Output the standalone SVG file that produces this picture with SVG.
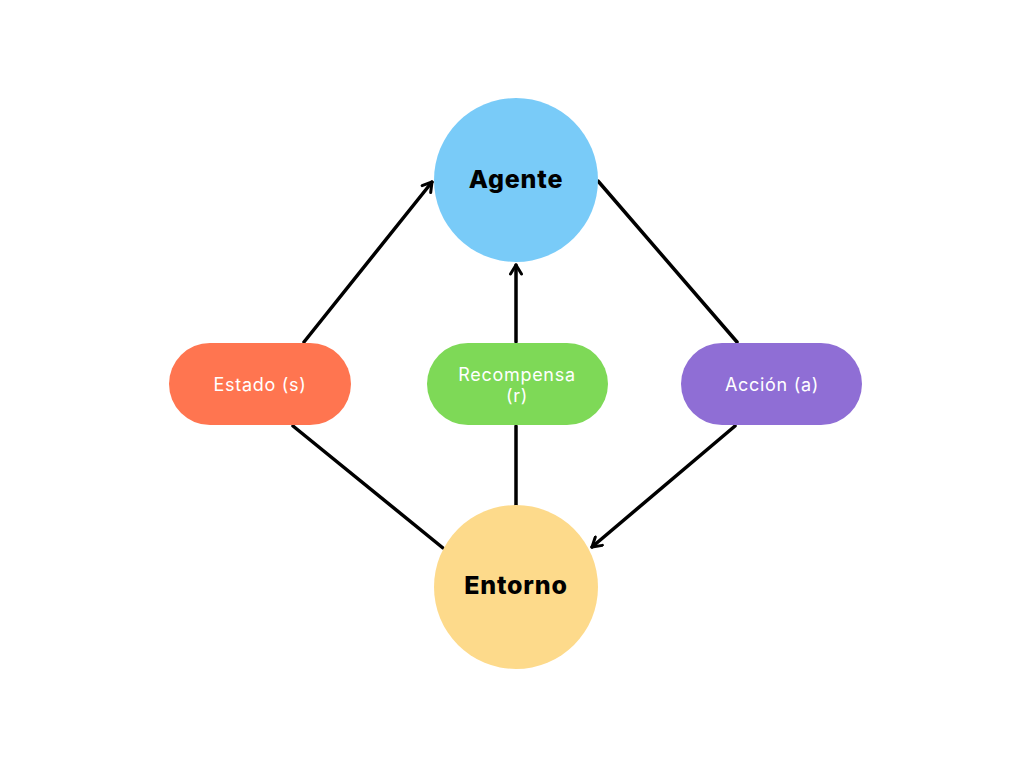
<svg xmlns="http://www.w3.org/2000/svg" width="1024" height="768" viewBox="0 0 1024 768">
<defs>
<marker id="arr" viewBox="0 0 14 14" refX="12" refY="7" markerWidth="14" markerHeight="14" markerUnits="userSpaceOnUse" orient="auto">
<path d="M3,1.5 L12,7 L3,12.5" fill="none" stroke="#000" stroke-width="3" stroke-linecap="round" stroke-linejoin="round"/>
</marker>
</defs>
<style>
.c{stroke:#000;stroke-width:3.5;fill:none;stroke-linecap:round}
.big{font-family:Inter,"Open Sans","Liberation Sans",sans-serif;font-weight:800;font-size:25px;letter-spacing:0.8px;fill:#000;text-anchor:middle}
.pill{font-family:Inter,"Open Sans","Liberation Sans",sans-serif;font-weight:400;font-size:18px;letter-spacing:0.7px;fill:#fff;text-anchor:middle}
</style>
<rect width="1024" height="768" fill="#fff"/>
<g id="connectors">
<line class="c" x1="304" y1="342" x2="432" y2="182" marker-end="url(#arr)"/>
<line class="c" x1="293" y1="426" x2="443" y2="548"/>
<line class="c" x1="516" y1="342" x2="516" y2="265" marker-end="url(#arr)"/>
<line class="c" x1="516" y1="426" x2="516" y2="506"/>
<line class="c" x1="598" y1="181" x2="737" y2="342"/>
<line class="c" x1="735" y1="426" x2="592" y2="547" marker-end="url(#arr)"/>
</g>
<g id="agente">
<circle cx="516" cy="180" r="82" fill="#79CBF8"/>
<text class="big" x="516" y="188">Agente</text>
</g>
<g id="entorno">
<circle cx="516" cy="587" r="82" fill="#FDDA8B"/>
<text class="big" x="516" y="594">Entorno</text>
</g>
<g id="estado">
<rect x="169" y="343" width="182" height="82" rx="41" fill="#FF7550"/>
<text class="pill" x="260" y="391">Estado (s)</text>
</g>
<g id="recompensa">
<rect x="427" y="343" width="181" height="82" rx="41" fill="#7ED957"/>
<text class="pill" x="517" y="381">Recompensa</text>
<text class="pill" x="517" y="402">(r)</text>
</g>
<g id="accion">
<rect x="681" y="343" width="181" height="82" rx="41" fill="#8F6ED5"/>
<text class="pill" x="772" y="391">Acción (a)</text>
</g>
</svg>
